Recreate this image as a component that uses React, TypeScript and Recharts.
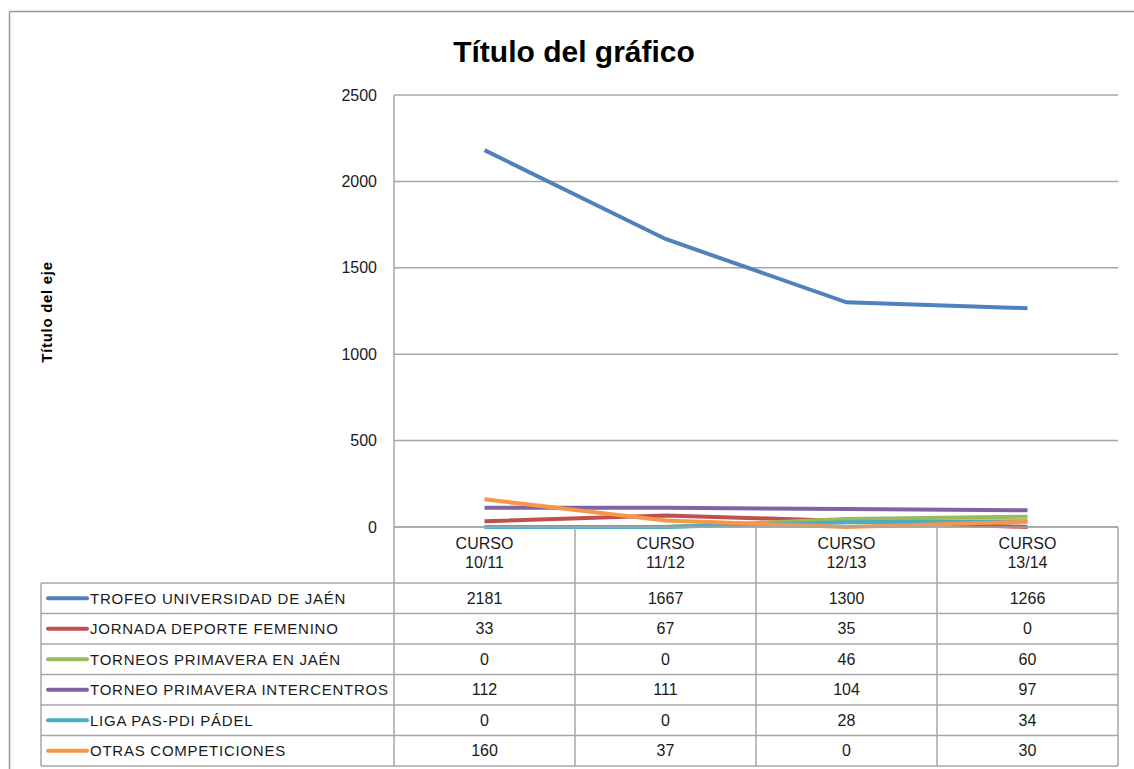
import { LineChart, Line, XAxis, YAxis, CartesianGrid } from 'recharts';

// cursos (eje X) y series
const categories = ['CURSO 10/11', 'CURSO 11/12', 'CURSO 12/13', 'CURSO 13/14'];
const trofeo = [2181, 1667, 1300, 1266];
const jornada = [33, 67, 35, 0];
const torneosJaen = [0, 0, 46, 60];
const intercentros = [112, 111, 104, 97];
const ligaPadel = [0, 0, 28, 34];
const otras = [160, 37, 0, 30];
const yTicks = [0, 500, 1000, 1500, 2000, 2500];

const series = [
  { key: 's1', name: 'TROFEO UNIVERSIDAD DE JAÉN', values: trofeo, color: '#4F81BD' },
  { key: 's2', name: 'JORNADA DEPORTE FEMENINO', values: jornada, color: '#C0504D' },
  { key: 's3', name: 'TORNEOS PRIMAVERA EN JAÉN', values: torneosJaen, color: '#9BBB59' },
  { key: 's4', name: 'TORNEO PRIMAVERA INTERCENTROS', values: intercentros, color: '#8064A2' },
  { key: 's5', name: 'LIGA PAS-PDI PÁDEL', values: ligaPadel, color: '#4BACC6' },
  { key: 's6', name: 'OTRAS COMPETICIONES', values: otras, color: '#F79646' },
];

const chartData = categories.map((cat, i) => {
  const row: Record<string, any> = { cat };
  series.forEach((s) => {
    row[s.key] = s.values[i];
  });
  return row;
});

const W = 1134;
const H = 769;
const PLOT_L = 394;
const PLOT_R = 1118;
const PLOT_T = 95;
const PLOT_B = 527;
const Y_AXIS_W = 60;
const TABLE_L = 41;
const HEADER_B = 583;
const TABLE_B = 766;
const GRID = '#A6A6A6';
const FONT = '"Liberation Sans", Arial, sans-serif';

const colW = (PLOT_R - PLOT_L) / categories.length;
const rowH = (TABLE_B - HEADER_B) / series.length;

const CategoryTick = ({ x, y, payload }: any) => {
  const parts = String(payload.value).split(' ');
  return (
    <g>
      <text x={x} y={y + 22} textAnchor="middle" fontSize={16} fontFamily={FONT} fill="#1a1a1a">
        {parts[0]}
      </text>
      <text x={x} y={y + 41} textAnchor="middle" fontSize={16} fontFamily={FONT} fill="#1a1a1a">
        {parts[1]}
      </text>
    </g>
  );
};

const DataTable = () => {
  const cols = categories.map((_, i) => PLOT_L + colW * i);
  return (
    <svg
      width={W}
      height={H}
      style={{ position: 'absolute', left: 0, top: 0, pointerEvents: 'none' }}
    >
      {/* marco exterior */}
      <line x1={9.5} y1={11.5} x2={W} y2={11.5} stroke="#999" strokeWidth={1.5} />
      <line x1={9.5} y1={11.5} x2={9.5} y2={H} stroke="#999" strokeWidth={1.5} />

      <text x={574} y={62} textAnchor="middle" fontSize={30} fontWeight="bold" fontFamily={FONT} fill="#000">
        Título del gráfico
      </text>
      <text
        x={0}
        y={0}
        transform="translate(52, 312) rotate(-90)"
        textAnchor="middle"
        fontSize={15}
        fontWeight="bold"
        letterSpacing={0.7}
        fontFamily={FONT}
        fill="#000"
      >
        Título del eje
      </text>

      {/* rejilla de la tabla */}
      <line x1={PLOT_L} y1={PLOT_B} x2={PLOT_R} y2={PLOT_B} stroke={GRID} strokeWidth={1.5} />
      {series.map((_, r) => (
        <line
          key={'h' + r}
          x1={TABLE_L}
          y1={HEADER_B + rowH * r}
          x2={PLOT_R}
          y2={HEADER_B + rowH * r}
          stroke={GRID}
          strokeWidth={1.5}
        />
      ))}
      <line x1={TABLE_L} y1={TABLE_B} x2={PLOT_R} y2={TABLE_B} stroke={GRID} strokeWidth={1.5} />
      <line x1={TABLE_L} y1={HEADER_B} x2={TABLE_L} y2={TABLE_B} stroke={GRID} strokeWidth={1.5} />
      {[...cols, PLOT_R].map((x, i) => (
        <line key={'v' + i} x1={x} y1={PLOT_B} x2={x} y2={TABLE_B} stroke={GRID} strokeWidth={1.5} />
      ))}

      {series.map((s, r) => {
        const cy = HEADER_B + rowH * r + rowH / 2;
        return (
          <g key={s.key}>
            <line x1={48} y1={cy} x2={87} y2={cy} stroke={s.color} strokeWidth={4} strokeLinecap="round" />
            <text x={90} y={cy + 5.5} fontSize={15} fontFamily={FONT} fill="#1a1a1a" letterSpacing={0.75}>
              {s.name}
            </text>
            {s.values.map((v, c) => (
              <text
                key={c}
                x={cols[c] + colW / 2}
                y={cy + 5.5}
                textAnchor="middle"
                fontSize={16}
                fontFamily={FONT}
                fill="#1a1a1a"
              >
                {v}
              </text>
            ))}
          </g>
        );
      })}
    </svg>
  );
};

export default function App() {
  return (
    <div style={{ position: 'absolute', left: 0, top: 0, width: W, height: H, background: '#fff' }}>
      <LineChart
        width={W}
        height={H}
        data={chartData}
        margin={{ top: PLOT_T, right: W - PLOT_R, bottom: 0, left: PLOT_L - Y_AXIS_W }}
      >
        <CartesianGrid vertical={false} stroke={GRID} strokeWidth={1.5} />
        <XAxis
          dataKey="cat"
          axisLine={false}
          tickLine={false}
          tickSize={0}
          tickMargin={0}
          height={H - PLOT_B}
          padding={{ left: colW / 2, right: colW / 2 }}
          tick={<CategoryTick />}
          interval={0}
        />
        <YAxis
          width={Y_AXIS_W}
          domain={[0, 2500]}
          ticks={yTicks}
          axisLine={{ stroke: GRID, strokeWidth: 1.5 }}
          tickLine={false}
          tickSize={6}
          tickMargin={11}
          tick={{ fontSize: 16, fontFamily: FONT, fill: '#1a1a1a' }}
        />
        {series.map((s) => (
          <Line
            key={s.key}
            dataKey={s.key}
            name={s.name}
            stroke={s.color}
            strokeWidth={4}
            dot={false}
            activeDot={false}
            isAnimationActive={false}
          />
        ))}
      </LineChart>
      <DataTable />
    </div>
  );
}
